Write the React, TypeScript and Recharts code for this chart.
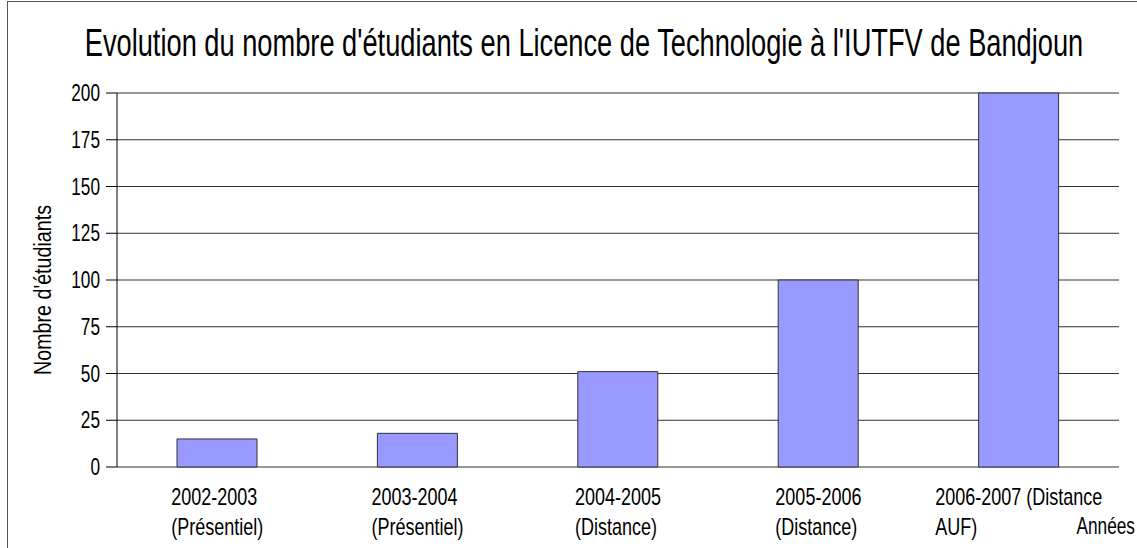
import React from 'react';
import { BarChart, Bar, XAxis, YAxis, CartesianGrid } from 'recharts';

const categories = [
  '2002-2003\n(Présentiel)',
  '2003-2004\n(Présentiel)',
  '2004-2005\n(Distance)',
  '2005-2006\n(Distance)',
  '2006-2007 (Distance\nAUF)',
];
const students = [15, 18, 51, 100, 200];
const yTicks = [0, 25, 50, 75, 100, 125, 150, 175, 200];
const edgeTicks = [0, 1, 2, 3, 4, 5];

const title = "Evolution du nombre d'étudiants en Licence de Technologie à l'IUTFV de Bandjoun";
const yTitle = "Nombre d'étudiants";
const xTitle = 'Années';

const FONT = '"Liberation Sans", Arial, sans-serif';
const SQUEEZE = 0.75; // the source uses a condensed face

const data = categories.map((name, i) => ({ name, pos: i + 0.5, value: students[i] }));

let ctx: CanvasRenderingContext2D | null = null;
const measure = (s: string, size: number) => {
  if (!ctx) ctx = document.createElement('canvas').getContext('2d');
  if (!ctx) return s.length * size * 0.5;
  ctx.font = `${size}px ${FONT}`;
  return ctx.measureText(s).width;
};

const CatTick = (props: any) => {
  const { x, y, payload } = props;
  const lines: string[] = String(payload.value).split('\n');
  const w = Math.max(...lines.map((l) => measure(l, 24))) * SQUEEZE;
  return (
    <g transform={`translate(${x - w / 2},${y}) scale(${SQUEEZE},1)`}>
      <text x={0} y={0} fontSize={24} fontFamily={FONT} fill="#000" textAnchor="start">
        {lines.map((l, i) => (
          <tspan key={i} x={0} y={38 + i * 30}>{l}</tspan>
        ))}
      </text>
    </g>
  );
};

const ValueTick = (props: any) => {
  const { x, y, payload } = props;
  return (
    <text
      transform={`translate(${x},${y + 8}) scale(${SQUEEZE},1)`}
      fontSize={23}
      fontFamily={FONT}
      fill="#000"
      textAnchor="end"
    >
      {payload.value}
    </text>
  );
};

export default function App() {
  return (
    <div style={{ position: 'absolute', left: 0, top: 0, width: 1137, height: 548, background: '#fff' }}>
      <div style={{ position: 'absolute', left: 7, top: 1, right: 0, bottom: 0, borderLeft: '1px solid #555', borderTop: '1px solid #555' }} />
      <BarChart width={1137} height={548} data={data} margin={{ top: 93, right: 18, left: 42, bottom: 0 }}>
        <CartesianGrid horizontal vertical={false} stroke="#333" />
        <XAxis
          xAxisId="edges"
          type="number"
          dataKey="pos"
          domain={[0, 5]}
          ticks={edgeTicks}
          tick={false}
          tickSize={13}
          height={0}
          stroke="#000"
        />
        <XAxis
          xAxisId="cat"
          dataKey="name"
          axisLine={false}
          tickLine={false}
          tickSize={0}
          tickMargin={0}
          height={81}
          interval={0}
          tick={<CatTick />}
        />
        <YAxis
          domain={[0, 200]}
          ticks={yTicks}
          width={75}
          tickSize={11}
          tickMargin={6}
          stroke="#000"
          tick={<ValueTick />}
        />
        <Bar
          xAxisId="cat"
          dataKey="value"
          fill="#9999ff"
          stroke="#333"
          strokeWidth={1}
          barSize={80}
          isAnimationActive={false}
        />
      </BarChart>
      <svg width={1137} height={548} style={{ position: 'absolute', left: 0, top: 0, pointerEvents: 'none' }}>
        <text transform="translate(584,56) scale(0.717,1)" fontSize={38} fontFamily={FONT} textAnchor="middle">
          {title}
        </text>
        <text transform="translate(51,290) rotate(-90) scale(0.82,1)" fontSize={24} fontFamily={FONT} textAnchor="middle">
          {yTitle}
        </text>
        <text transform="translate(1135,534) scale(0.75,1)" fontSize={23} fontFamily={FONT} textAnchor="end">
          {xTitle}
        </text>
      </svg>
    </div>
  );
}
